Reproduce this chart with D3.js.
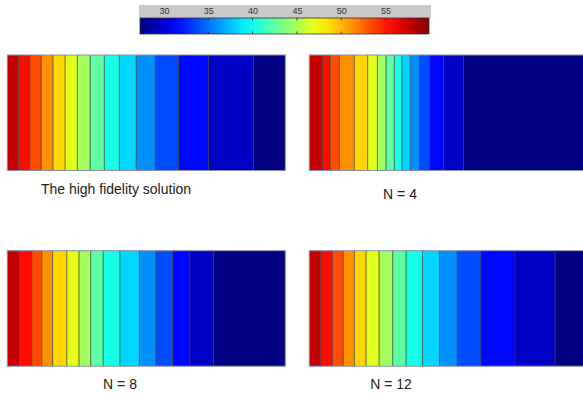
<!DOCTYPE html>
<html>
<head>
<meta charset="utf-8">
<script src="https://cdn.jsdelivr.net/npm/d3@7"></script>
<style>
  html, body { margin: 0; padding: 0; background: #fff; }
  svg { display: block; }
  text { font-family: "Liberation Sans", Arial, sans-serif; }
</style>
</head>
<body>
<svg id="chart" width="583" height="399"></svg>
<script>
// Temperature range shown by the colour bar
const fieldMin = 27.3;
const fieldMax = 59.9;

// Contour levels (hot to cold) separating the 15 filled bands
const contourLevels = [57.7, 55.5, 53.4, 51.2, 49.0, 46.8, 44.7, 42.5, 40.3, 38.2, 36.0, 33.8, 31.6, 29.5];

// Colour bar tick labels
const colorbarTicks = [30, 35, 40, 45, 50, 55];

// Panel titles
const panelTitles = ["The high fidelity solution", "N = 4", "N = 8", "N = 12"];

// Normalised position (0 = left wall, 1 = right wall) where each contour level is crossed
const crossHighFidelity = [0.040, 0.081, 0.122, 0.164, 0.208, 0.252, 0.298, 0.349, 0.403, 0.464, 0.532, 0.616, 0.724, 0.886];
const crossN4  = [0.048, 0.075, 0.108, 0.162, 0.210, 0.245, 0.276, 0.306, 0.333, 0.363, 0.396, 0.432, 0.483, 0.555];
const crossN8  = [0.043, 0.088, 0.124, 0.163, 0.214, 0.258, 0.300, 0.345, 0.405, 0.475, 0.535, 0.595, 0.657, 0.741];
const crossN12 = [0.041, 0.083, 0.122, 0.162, 0.204, 0.251, 0.300, 0.348, 0.407, 0.468, 0.532, 0.617, 0.740, 0.884];

// Classic "jet" colormap
function jet(t) {
  const c = v => Math.max(0, Math.min(1, v));
  const r = c(Math.min(4 * t - 1.5, -4 * t + 4.5));
  const g = c(Math.min(4 * t - 0.5, -4 * t + 3.5));
  const b = c(Math.min(4 * t + 0.5, -4 * t + 2.5));
  return d3.rgb(r * 255, g * 255, b * 255).toString();
}

const color = d3.scaleSequential(jet).domain([fieldMin, fieldMax]);
const svg = d3.select("#chart");

// ---- colour bar ----
const cbX = d3.scaleLinear().domain([fieldMin, fieldMax]).range([140, 429]);
const cbTop = 18, cbH = 16;

svg.append("rect")
  .attr("x", 139).attr("y", 5).attr("width", 292).attr("height", 13)
  .attr("fill", "#c9c9c9");

const grad = svg.append("defs").append("linearGradient")
  .attr("id", "jetGrad").attr("x1", "0%").attr("x2", "100%");
d3.range(0, 1.0001, 0.05).forEach(t => {
  grad.append("stop").attr("offset", (t * 100) + "%").attr("stop-color", jet(t));
});

svg.append("rect")
  .attr("x", cbX.range()[0]).attr("y", cbTop)
  .attr("width", cbX.range()[1] - cbX.range()[0]).attr("height", cbH)
  .attr("fill", "url(#jetGrad)")
  .attr("stroke", "#333").attr("stroke-width", 0.8);

const cbAxis = svg.append("g").attr("transform", `translate(0,${cbTop})`)
  .call(d3.axisTop(cbX).tickValues(colorbarTicks).tickSize(0).tickPadding(4));
cbAxis.select(".domain").remove();
cbAxis.selectAll("text")
  .attr("font-size", 9).attr("fill", "#333")
  .style("font-family", "'Liberation Sans', Arial, sans-serif");

// small inner tick marks on the bar
colorbarTicks.forEach(v => {
  svg.append("line").attr("x1", cbX(v)).attr("x2", cbX(v))
    .attr("y1", cbTop).attr("y2", cbTop + 2.5).attr("stroke", "#222").attr("stroke-width", 0.8);
  svg.append("line").attr("x1", cbX(v)).attr("x2", cbX(v))
    .attr("y1", cbTop + cbH - 2.5).attr("y2", cbTop + cbH).attr("stroke", "#222").attr("stroke-width", 0.8);
});

// ---- contour panels ----
const panels = [
  { title: panelTitles[0], cross: crossHighFidelity, x0: 7.3,   y0: 55,    tx: 116, ty: 194 },
  { title: panelTitles[1], cross: crossN4,           x0: 309.3, y0: 55,    tx: 400, ty: 199 },
  { title: panelTitles[2], cross: crossN8,           x0: 7.3,   y0: 250.7, tx: 120, ty: 389 },
  { title: panelTitles[3], cross: crossN12,          x0: 309.3, y0: 250.7, tx: 391, ty: 389 }
];
const panelW = 278, panelH = 115.5;

// each filled band takes the colour of the level it lies above (its lower bound)
const bounds = [fieldMax].concat(contourLevels, [fieldMin]);
const bandValues = d3.range(bounds.length - 1).map(i => bounds[i + 1]);

panels.forEach(p => {
  const x = d3.scaleLinear().domain([0, 1]).range([p.x0, p.x0 + panelW]);
  const edges = [0].concat(p.cross, [1]);
  const bands = bandValues.map((v, i) => ({ v, a: edges[i], b: edges[i + 1] }));
  const g = svg.append("g");

  g.selectAll("rect.band").data(bands).join("rect")
    .attr("class", "band")
    .attr("x", d => x(d.a)).attr("y", p.y0)
    .attr("width", d => x(d.b) - x(d.a)).attr("height", panelH)
    .attr("fill", d => color(d.v));

  g.selectAll("line.iso").data(p.cross).join("line")
    .attr("class", "iso")
    .attr("x1", d => x(d)).attr("x2", d => x(d))
    .attr("y1", p.y0).attr("y2", p.y0 + panelH)
    .attr("stroke", "#3a3a3a").attr("stroke-opacity", 0.75).attr("stroke-width", 1);

  g.append("rect")
    .attr("x", p.x0).attr("y", p.y0).attr("width", panelW).attr("height", panelH)
    .attr("fill", "none").attr("stroke", "#8a8fb0").attr("stroke-width", 1);

  svg.append("text")
    .attr("x", p.tx).attr("y", p.ty)
    .attr("text-anchor", "middle")
    .attr("font-size", 14).attr("fill", "#222")
    .text(p.title);
});
</script>
</body>
</html>
